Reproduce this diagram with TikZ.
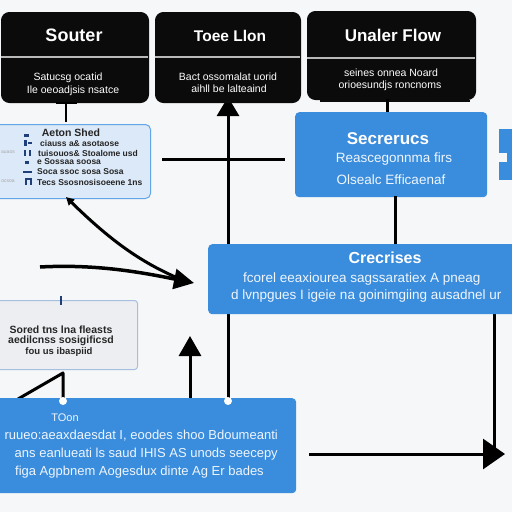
\documentclass[tikz,border=0pt]{standalone}
\usepackage{fontspec}
\setmainfont{Liberation Sans}
\usetikzlibrary{arrows.meta}
\definecolor{bg}{HTML}{F6F7F8}
\definecolor{bluebox}{HTML}{3A8CDD}
\definecolor{lightbox}{HTML}{DCE9F8}
\definecolor{lightedge}{HTML}{62A6E8}
\definecolor{graybox}{HTML}{ECEEF1}
\definecolor{grayedge}{HTML}{A6BEDF}
\definecolor{boxblack}{HTML}{0B0B0B}
\definecolor{icon}{HTML}{1F3F7A}
\tikzset{
  darkbox/.style={draw=boxblack, fill=boxblack, rounded corners=8pt, inner sep=0pt, line width=1pt, anchor=north west},
  bluebx/.style={fill=bluebox, rounded corners=4pt, inner sep=0pt, anchor=north west},
  lightbx/.style={fill=lightbox, draw=lightedge, line width=1pt, rounded corners=5pt, inner sep=0pt, anchor=north west},
  graybx/.style={fill=graybox, draw=grayedge, line width=1pt, rounded corners=3pt, inner sep=0pt, anchor=north west},
  divider/.style={draw=gray!55, line width=1.6pt},
  conn/.style={draw=black, line width=3pt},
  uptip/.style={-{Triangle[length=19pt,width=22pt]}},
  wtitle/.style={text=white, inner sep=0pt, font=\bfseries\fontsize{18}{20}\selectfont},
  wsub/.style={text=white, inner sep=0pt, font=\fontsize{10.5}{12}\selectfont},
  btitle/.style={text=white, inner sep=0pt, font=\bfseries\fontsize{17}{19}\selectfont},
  bline/.style={text=white!92!bluebox, inner sep=0pt, font=\fontsize{13.5}{15}\selectfont},
  dtext/.style={text=black!85, inner sep=0pt, font=\bfseries\fontsize{8.5}{10}\selectfont},
}
\begin{document}
\begin{tikzpicture}[x=1pt,y=-1pt]
\clip (0,0) rectangle (512,512);
\fill[bg] (0,0) rectangle (512,512);

% ---- connectors drawn behind boxes
\coordinate (c1) at (228,401);
\coordinate (c2) at (228,97);
\draw[conn, uptip] (c1) -- (c2);
\coordinate (h1) at (162,159);
\coordinate (h2) at (285,159);
\draw[conn] (h1) -- (h2);

% ---- black header boxes
\node[darkbox, minimum width=147pt, minimum height=90pt] (souter) at (1,12) {};
\node[darkbox, minimum width=145pt, minimum height=90pt] (tour) at (155,12) {};
\draw[boxblack, line width=1.5pt] (320,101) -- (470,101);
\node[darkbox, minimum width=168pt, minimum height=88pt] (unaler) at (307,11) {};
\draw[divider] (1,57) -- (148,57);
\draw[divider] (155,57) -- (300,57);
\draw[divider] (307,58) -- (475,58);

\node[wtitle] (souterT) at (74,35) {Souter};
\node[wsub] (souterS1) at (68,78) {Satucsg ocatid};
\node[wsub] (souterS2) at (73,91) {Ile oeoadjsis nsatce};

\node[wtitle, font=\bfseries\fontsize{15.5}{17}\selectfont] (tourT) at (230,36) {Toee Llon};
\node[wsub] (tourS1) at (228,77) {Bact ossomalat uorid};
\node[wsub] (tourS2) at (229,89) {aihll be lalteaind};

\node[wtitle, font=\bfseries\fontsize{17}{19}\selectfont] (unalerT) at (393,35) {Unaler Flow};
\node[wsub] (unalerS1) at (391,73) {seines onnea Noard};
\node[wsub] (unalerS2) at (390,86) {orioesundjs roncnoms};

% ---- light blue Aeton box
\node[lightbx, minimum width=156pt, minimum height=74pt] (aeton) at (-6,124) {};
\node[dtext, font=\bfseries\fontsize{10.5}{12}\selectfont] (aetonT) at (71,133) {Aeton Shed};
\node[dtext, anchor=west] (a1) at (40,143) {ciauss a\& asotaose};
\node[dtext, anchor=west] (a2) at (38,153) {tuisouos\& Stoalome usd};
\node[dtext, anchor=west] (a3) at (37,162) {e Sossaa soosa};
\node[dtext, anchor=west] (a4) at (37,172) {Soca ssoc sosa Sosa};
\node[dtext, anchor=west] (a5) at (37,182) {Tecs Ssosnosisoeene 1ns};
\node[text=gray!70, inner sep=0pt, font=\fontsize{5}{6}\selectfont] (af1) at (8,152) {auaos};
\node[text=gray!70, inner sep=0pt, font=\fontsize{5}{6}\selectfont] (af2) at (8,181) {ocsoa};
% small icons
\fill[icon] (24,134) rectangle (29,137);
\fill[icon] (24,140) rectangle (27,146);
\fill[icon] (28,142) rectangle (32,144);
\fill[icon] (24,150) rectangle (26,156);
\fill[icon] (29,150) rectangle (31,156);
\fill[icon] (25,161) rectangle (29,164);
\fill[icon] (23,171) rectangle (32,173);
\fill[icon] (25,178) rectangle (32,185);
\fill[lightbox] (27,180) rectangle (30,185);

% souter -> aeton tick
\coordinate (s1) at (66,103);
\coordinate (s2) at (66,122);
\draw[black, line width=2pt] (s1) -- (s2);
\draw[black, line width=2pt] (56,103) -- (77,103);

% ---- Secrerucs
\coordinate (u1) at (387,99);
\coordinate (u2) at (387,113);
\draw[conn] (u1) -- (u2);
\node[bluebx, minimum width=192pt, minimum height=85pt] (secr) at (295,112) {};
\node[btitle] (secrT) at (388,139) {Secrerucs};
\node[bline] (secrL1) at (394,159) {Reascegonnma firs};
\node[bline] (secrL2) at (391,180) {Olsealc Efficaenaf};
% puzzle piece
\fill[bluebox] (499,129) rectangle (514,180);
\fill[bg] (498,153) rectangle (507,162);

\coordinate (v1) at (395,196);
\coordinate (v2) at (395,246);
\draw[conn] (v1) -- (v2);

% ---- right side path
\coordinate (r1) at (494,312);
\coordinate (r2) at (494,452);
\draw[conn] (r1) -- (r2);
\coordinate (r3) at (309,454);
\coordinate (r4) at (505,454);
\draw[conn, -{Triangle[length=22pt,width=30pt]}] (r3) -- (r4);

% ---- Crecrises
\node[bluebx, minimum width=312pt, minimum height=70pt] (crec) at (208,244) {};
\node[btitle, font=\bfseries\fontsize{16}{18}\selectfont] (crecT) at (385,258) {Crecrises};
\node[bline, anchor=west] (crecL1) at (243,279) {fcorel eeaxiourea sagssaratiex A pneag};
\node[bline, anchor=west] (crecL2) at (231,296) {d lvnpgues I igeie na goinimgiing ausadnel ur};

% ---- curved arrows into Crecrises
\coordinate (k1) at (40,267);
\coordinate (k2) at (194,283);
\coordinate (k0) at (66,197);
\draw[conn, line width=3pt, {Triangle[length=8pt,width=8pt]}-] (k0) .. controls (110,240) and (140,262) .. (180,279);
\draw[conn, line width=3.5pt, -{Triangle[length=20pt,width=20pt]}] (k1) .. controls (95,264) and (140,272) .. (k2);

% ---- gray box
\node[graybx, minimum width=143pt, minimum height=69pt] (gray) at (-6,300) {};
\draw[icon, line width=1.5pt] (61,296) -- (61,305);
\node[dtext, font=\bfseries\fontsize{10.5}{12}\selectfont] (g1) at (61,330) {Sored tns lna fleasts};
\node[dtext, font=\bfseries\fontsize{10.5}{12}\selectfont] (g2) at (61,341) {aedilcnss sosigificsd};
\node[dtext, font=\bfseries\fontsize{9.5}{11}\selectfont] (g3) at (59,352) {fou us ibaspiid};

% ---- up arrow and bottom-left connectors
\coordinate (p1) at (190,398);
\coordinate (p2) at (190,336);
\draw[conn, -{Triangle[length=20pt,width=22pt]}] (p1) -- (p2);
\coordinate (q1) at (63,401);
\coordinate (q2) at (63,373);
\coordinate (q3) at (18,399);
\draw[conn, line join=round] (q1) -- (q2) -- (q3);

% ---- Toon box
\node[bluebx, minimum width=302pt, minimum height=95pt] (toon) at (-6,398) {};
\fill[white] (q1) circle (4pt);
\fill[white] (c1) circle (4pt);
\node[bline, font=\fontsize{11}{13}\selectfont] (toonT) at (65,418) {TOon};
\node[bline, anchor=east, font=\fontsize{13}{15}\selectfont] (t1) at (278,436) {ruueo:aeaxdaesdat I, eoodes shoo Bdoumeanti};
\node[bline, anchor=east, font=\fontsize{13}{15}\selectfont] (t2) at (278,454) {ans eanlueati ls saud IHIS AS unods seecepy};
\node[bline, anchor=east, font=\fontsize{13}{15}\selectfont] (t3) at (264,472) {figa Agpbnem Aogesdux dinte Ag Er bades};
\end{tikzpicture}
\end{document}
